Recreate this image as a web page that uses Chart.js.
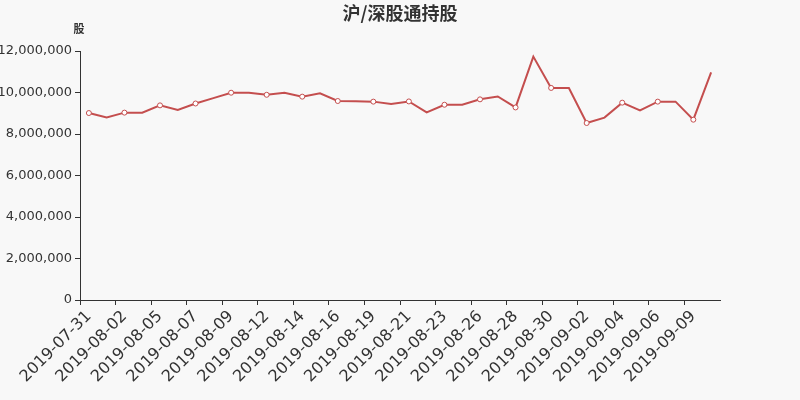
<!DOCTYPE html>
<html>
<head>
<meta charset="utf-8">
<script src="https://cdn.jsdelivr.net/npm/chart.js@4/dist/chart.umd.min.js"></script>
<style>
  html, body { margin: 0; padding: 0; background: #f8f8f8; }
  #wrap { width: 800px; height: 400px; }
</style>
</head>
<body>
<div id="wrap"><canvas id="holdChart" width="800" height="400"></canvas></div>
<script>
// ── 데이터 ──
const dates = [
  '2019-07-31', '2019-08-01', '2019-08-02', '2019-08-03', '2019-08-05', '2019-08-06',
  '2019-08-07', '2019-08-08', '2019-08-09', '2019-08-10', '2019-08-12', '2019-08-13',
  '2019-08-14', '2019-08-15', '2019-08-16', '2019-08-17', '2019-08-19', '2019-08-20',
  '2019-08-21', '2019-08-22', '2019-08-23', '2019-08-24', '2019-08-26', '2019-08-27',
  '2019-08-28', '2019-08-29', '2019-08-30', '2019-08-31', '2019-09-02', '2019-09-03',
  '2019-09-04', '2019-09-05', '2019-09-06', '2019-09-07', '2019-09-09', '2019-09-10'
];
const holdings = [
  9010000, 8800000, 9030000, 9030000, 9380000, 9160000,
  9470000, 9730000, 9990000, 9990000, 9890000, 9990000,
  9800000, 9960000, 9590000, 9580000, 9560000, 9450000,
  9570000, 9040000, 9410000, 9410000, 9670000, 9810000,
  9280000, 11730000, 10220000, 10220000, 8530000, 8790000,
  9510000, 9140000, 9560000, 9560000, 8690000, 10970000
];
const yTicks = [0, 2000000, 4000000, 6000000, 8000000, 10000000, 12000000];
const titleText = '沪/深股通持股';
const unitText = '股';

const lineColor = '#c44e4e';
const axisColor = '#333';

// 제목과 단위 텍스트는 직접 그림
const headerPlugin = {
  id: 'header',
  afterDraw(chart) {
    const { ctx } = chart;
    ctx.save();
    ctx.fillStyle = axisColor;
    ctx.textAlign = 'center';
    ctx.textBaseline = 'middle';
    ctx.font = 'bold 18px "Noto Sans CJK SC", sans-serif';
    ctx.fillText(titleText, 400, 13);
    ctx.font = 'bold 11px "Noto Sans CJK SC", sans-serif';
    ctx.fillText(unitText, 79, 29);
    ctx.restore();
  }
};

new Chart(document.getElementById('holdChart').getContext('2d'), {
  type: 'line',
  data: {
    labels: dates,
    datasets: [{
      label: titleText,
      data: holdings,
      borderColor: lineColor,
      borderWidth: 2,
      backgroundColor: '#ffffff',
      pointBackgroundColor: '#ffffff',
      pointBorderColor: lineColor,
      pointBorderWidth: 1,
      pointRadius: ctx => ctx.dataIndex % 2 === 0 ? 2.5 : 0,
      tension: 0
    }]
  },
  options: {
    responsive: false,
    animation: false,
    layout: { padding: { top: 51, right: 80, left: 0, bottom: 0 } },
    plugins: {
      legend: { display: false },
      title: { display: false },
      tooltip: { enabled: false }
    },
    scales: {
      x: {
        type: 'category',
        offset: true,
        grid: {
          offset: true,
          drawOnChartArea: false,
          tickLength: 5,
          color: ctx => ctx.index % 2 === 0 ? axisColor : 'rgba(0,0,0,0)'
        },
        border: { color: axisColor, width: 1 },
        ticks: {
          autoSkip: false,
          minRotation: 45,
          maxRotation: 45,
          padding: 2,
          color: axisColor,
          font: { family: '"DejaVu Sans", sans-serif', size: 16 },
          callback: function(val, i) { return i % 2 === 0 ? this.getLabelForValue(val) : ''; }
        },
        afterFit: s => { s.height = 100; }
      },
      y: {
        min: 0,
        max: 12000000,
        afterBuildTicks: s => { s.ticks = yTicks.map(v => ({ value: v })); },
        grid: { drawOnChartArea: false, tickLength: 5, color: axisColor },
        border: { color: axisColor, width: 1 },
        ticks: {
          padding: 3,
          color: axisColor,
          font: { family: '"DejaVu Sans", sans-serif', size: 13 },
          callback: v => v.toLocaleString('en-US')
        },
        afterFit: s => { s.width = 80; }
      }
    }
  },
  plugins: [headerPlugin]
});
</script>
</body>
</html>
